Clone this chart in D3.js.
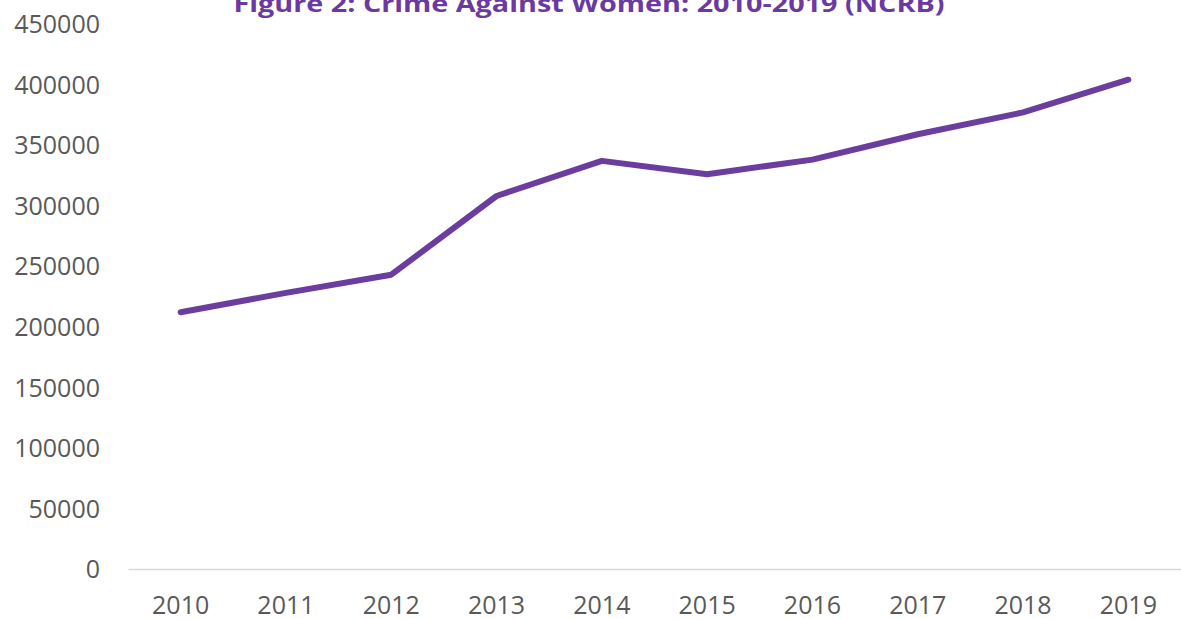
<!DOCTYPE html>
<html>
<head>
<meta charset="utf-8">
<script src="https://cdn.jsdelivr.net/npm/d3@7"></script>
<style>
  html, body { margin: 0; padding: 0; background: #fff; }
  svg { display: block; }
</style>
</head>
<body>
<svg id="chart" width="1181" height="619"></svg>
<script>
const years = ["2010","2011","2012","2013","2014","2015","2016","2017","2018","2019"];
const crimes = [212000, 228000, 243000, 308000, 337000, 326000, 338000, 359000, 377000, 404000];
const yTicks = [0, 50000, 100000, 150000, 200000, 250000, 300000, 350000, 400000, 450000];
const titleText = "Figure 2: Crime Against Women: 2010-2019 (NCRB)";

(function () {
const svg = d3.select("#chart");
const plotLeft = 128, plotRight = 1181, plotTop = 24, plotBottom = 569;

const x = d3.scaleBand().domain(years).range([plotLeft, plotRight]);
const y = d3.scaleLinear().domain([0, 450000]).range([plotBottom, plotTop]);

// y axis labels (no line)
const yAxis = d3.axisLeft(y).tickValues(yTicks).tickSize(0).tickPadding(0).tickFormat(d3.format("d"));
const gy = svg.append("g").attr("transform", "translate(100,0)").call(yAxis);
gy.select(".domain").remove();
gy.selectAll("text")
  .attr("fill", "#595959")
  .style("font-family", "'Open Sans', sans-serif")
  .style("font-size", "25px")
  .attr("dy", "0.35em");

// x axis
const xAxis = d3.axisBottom(x).tickSize(0).tickPadding(0);
const gx = svg.append("g").attr("transform", `translate(0,${plotBottom})`).call(xAxis);
gx.select(".domain").attr("stroke", "#d9d9d9").attr("stroke-width", 1.5);
gx.selectAll("text")
  .attr("fill", "#595959")
  .style("font-family", "'Open Sans', sans-serif")
  .style("font-size", "25px")
  .attr("y", 36.5)
  .attr("dy", "0.35em");

// line
const line = d3.line()
  .x((d, i) => x(years[i]) + x.bandwidth() / 2)
  .y(d => y(d));
svg.append("path")
  .datum(crimes)
  .attr("d", line)
  .attr("fill", "none")
  .attr("stroke", "#6a3d9f")
  .attr("stroke-width", 6)
  .attr("stroke-linejoin", "round")
  .attr("stroke-linecap", "round");

// title (cropped at top as in the reference)
svg.append("text")
  .attr("x", 589)
  .attr("y", 12)
  .attr("text-anchor", "middle")
  .attr("fill", "#6a3aa0")
  .style("font-family", "'Open Sans', sans-serif")
  .style("font-weight", "bold")
  .style("font-size", "24px")
  .attr("textLength", 711)
  .attr("lengthAdjust", "spacingAndGlyphs")
  .text(titleText);
})();
</script>
</body>
</html>
